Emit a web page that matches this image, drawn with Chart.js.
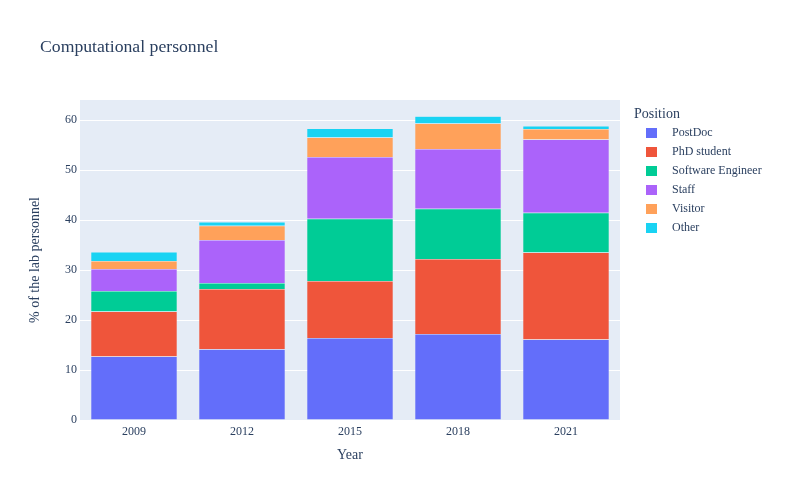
<!DOCTYPE html>
<html>
<head>
<meta charset="utf-8">
<script src="https://cdn.jsdelivr.net/npm/chart.js@4.4.0/dist/chart.umd.min.js"></script>
<style>
  html, body { margin: 0; padding: 0; background: #fff; }
  #wrap { width: 800px; height: 500px; }
</style>
</head>
<body>
<div id="wrap"><canvas id="chart"></canvas></div>
<script>
const years = ['2009', '2012', '2015', '2018', '2021'];
const postDoc = [12.7, 14.15, 16.4, 17.2, 16.1];
const phdStudent = [9.0, 12.05, 11.4, 15.0, 17.4];
const softwareEngineer = [4.1, 1.2, 12.45, 10.05, 7.95];
const staff = [4.4, 8.6, 12.35, 11.95, 14.65];
const visitor = [1.6, 2.85, 3.9, 5.1, 2.1];
const other = [1.8, 0.75, 1.8, 1.45, 0.6];
const yTicks = [0, 10, 20, 30, 40, 50, 60];

const textColor = '#2a3f5f';
const serif = '"Liberation Serif", "Times New Roman", serif';

// plot background like plotly's template
const plotBg = {
  id: 'plotBg',
  beforeDraw(chart) {
    const { ctx, chartArea } = chart;
    ctx.save();
    ctx.fillStyle = '#E5ECF6';
    ctx.fillRect(chartArea.left, chartArea.top, chartArea.right - chartArea.left, chartArea.bottom - chartArea.top);
    ctx.restore();
  }
};

// title + legend on the right
const titleAndLegend = {
  id: 'titleAndLegend',
  afterDraw(chart) {
    const ctx = chart.ctx;
    ctx.save();
    ctx.fillStyle = textColor;
    ctx.textAlign = 'left';
    ctx.textBaseline = 'alphabetic';
    ctx.font = '17.7px ' + serif;
    ctx.fillText('Computational personnel', 40, 52);

    ctx.textBaseline = 'middle';
    ctx.font = '14px ' + serif;
    ctx.fillText('Position', 634, 114);
    chart.data.datasets.forEach((ds, i) => {
      const y = 133 + i * 19;
      ctx.fillStyle = ds.backgroundColor;
      ctx.fillRect(646, y - 5, 11, 10);
      ctx.fillStyle = textColor;
      ctx.font = '12px ' + serif;
      ctx.fillText(ds.label, 672, y);
    });
    ctx.restore();
  }
};

const mk = (label, data, color) => ({
  label: label,
  data: data,
  backgroundColor: color,
  borderColor: '#E5ECF6',
  borderWidth: 0.5,
  barPercentage: 0.8,
  categoryPercentage: 1.0
});

new Chart(document.getElementById('chart'), {
  type: 'bar',
  data: {
    labels: years,
    datasets: [
      mk('PostDoc', postDoc, '#636EFA'),
      mk('PhD student', phdStudent, '#EF553B'),
      mk('Software Engineer', softwareEngineer, '#00CC96'),
      mk('Staff', staff, '#AB63FA'),
      mk('Visitor', visitor, '#FFA15A'),
      mk('Other', other, '#19D3F3')
    ]
  },
  options: {
    responsive: true,
    maintainAspectRatio: false,
    animation: false,
    layout: { padding: { top: 100, right: 180, left: 0, bottom: 0 } },
    plugins: {
      legend: { display: false },
      title: { display: false },
      tooltip: { enabled: false }
    },
    scales: {
      x: {
        stacked: true,
        grid: { display: false, drawTicks: false },
        border: { display: false },
        ticks: { color: textColor, font: { family: serif, size: 12 }, padding: 5 },
        title: {
          display: true,
          text: 'Year',
          color: textColor,
          font: { family: serif, size: 14 },
          padding: { top: 0, bottom: 36 }
        },
        afterFit(scale) { scale.height = 80; }
      },
      y: {
        stacked: true,
        min: 0,
        max: 64,
        afterBuildTicks(scale) { scale.ticks = yTicks.map(v => ({ value: v })); },
        grid: { color: '#ffffff', lineWidth: 1, drawTicks: false },
        border: { display: false },
        ticks: { color: textColor, font: { family: serif, size: 12 }, padding: 3 },
        title: {
          display: true,
          text: '% of the lab personnel',
          color: textColor,
          font: { family: serif, size: 14 },
          padding: { top: 27, bottom: 0 }
        },
        afterFit(scale) { scale.width = 80; }
      }
    }
  },
  plugins: [plotBg, titleAndLegend]
});
</script>
</body>
</html>
